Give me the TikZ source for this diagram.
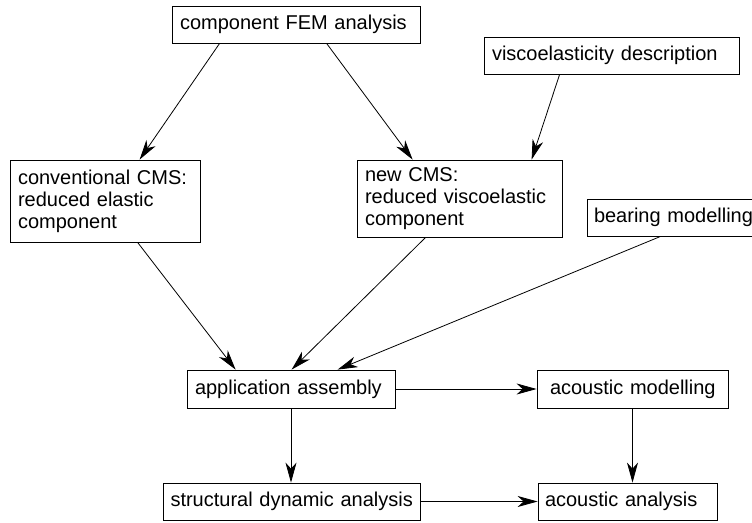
\documentclass[tikz,border=0pt]{standalone}
\usepackage{fontspec}
\setmainfont{Liberation Sans}
\usetikzlibrary{arrows.meta}
\tikzset{
  box/.style={draw, line width=0.8pt, inner xsep=8pt, inner ysep=0pt, align=left,
    font=\fontsize{20}{22}\selectfont},
  conn/.style={line width=0.8pt, -{Stealth[length=20pt,width=11pt,inset=6pt]}},
}
\begin{document}
\begin{tikzpicture}[x=1pt,y=-1pt]
\useasboundingbox (0,0) rectangle (752,522);
\node[box, text width=232pt, minimum height=37pt] (fem) at (296,24.5) {\mbox{component FEM analysis}};
\node[box, text width=239pt, minimum height=37pt] (visco) at (611.5,55.5) {\mbox{viscoelasticity description}};
\node[box, text width=174pt, minimum height=82pt] (conv) at (105,201) {conventional CMS:\\reduced elastic\\component};
\node[box, text width=189pt, minimum height=77pt] (newcms) at (459.5,198.5) {new CMS:\\reduced viscoelastic\\component};
\node[box, text width=169pt, minimum height=37pt, inner xsep=7pt] (bearing) at (678.5,217.5) {\mbox{bearing modelling}};
\node[box, text width=192pt, minimum height=38pt] (assembly) at (291,389) {\mbox{application assembly}};
\node[box, text width=175pt, minimum height=38pt] (acmod) at (632.5,389) {\hspace*{5pt}\mbox{acoustic modelling}};
\node[box, text width=242pt, minimum height=37pt, inner xsep=7.5pt] (struct) at (291.5,501.5) {\mbox{structural dynamic analysis}};
\node[box, text width=165pt, minimum height=37pt, inner xsep=7pt] (acan) at (627.5,501.5) {\mbox{acoustic analysis}};

\draw[conn] ([xshift=48pt]fem.south west) -- ([xshift=130pt]conv.north west);
\draw[conn] ([xshift=155pt]fem.south west) -- ([xshift=56pt]newcms.north west);
\draw[conn] ([xshift=76pt]visco.south west) -- ([xshift=175pt]newcms.north west);
\draw[conn] ([xshift=128pt]conv.south west) -- ([xshift=49pt]assembly.north west);
\draw[conn] ([xshift=69pt]newcms.south west) -- ([xshift=105pt]assembly.north west);
\draw[conn] ([xshift=74pt]bearing.south west) -- ([xshift=151pt]assembly.north west);
\draw[conn] (assembly.east) -- (acmod.west);
\draw[conn] (assembly.south) -- (assembly.south |- struct.north);
\draw[conn] (acmod.south) -- (acmod.south |- acan.north);
\draw[conn] (struct.east) -- (acan.west);
\end{tikzpicture}
\end{document}
